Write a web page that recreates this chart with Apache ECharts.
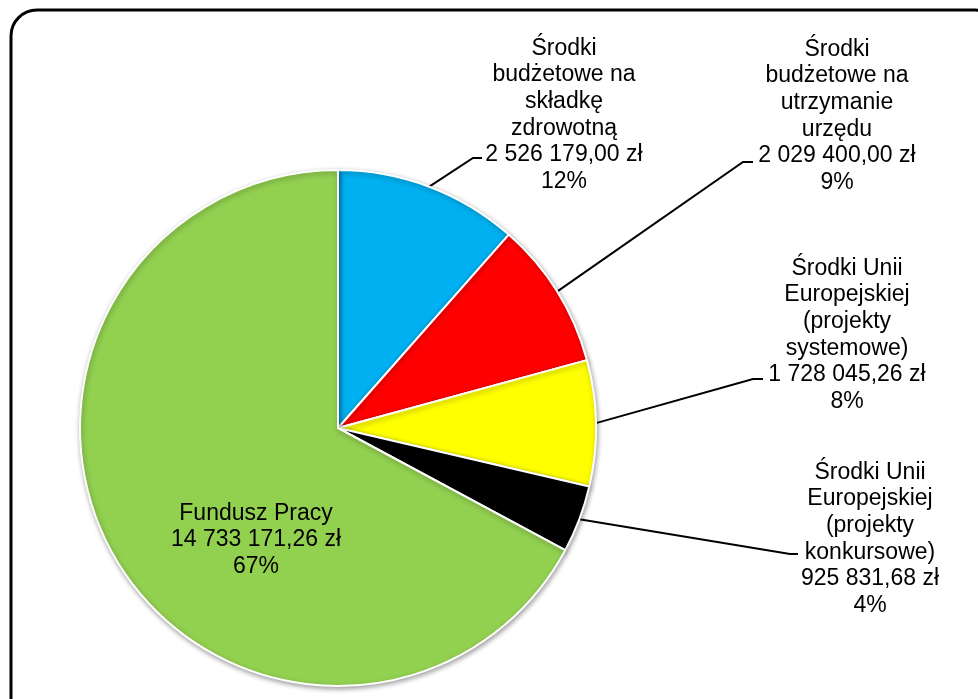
<!DOCTYPE html>
<html>
<head>
<meta charset="utf-8">
<script src="https://cdn.jsdelivr.net/npm/echarts@6/dist/echarts.min.js"></script>
<style>
html,body{margin:0;padding:0;background:#fff;}
#chart{width:978px;height:699px;}
</style>
</head>
<body>
<div id="chart"></div>
<script>
// ---- data ----
const categories = [
  'Środki\nbudżetowe na\nskładkę\nzdrowotną',
  'Środki\nbudżetowe na\nutrzymanie\nurzędu',
  'Środki Unii\nEuropejskiej\n(projekty\nsystemowe)',
  'Środki Unii\nEuropejskiej\n(projekty\nkonkursowe)',
  'Fundusz Pracy'
];
const values = [2526179.00, 2029400.00, 1728045.26, 925831.68, 14733171.26];
const colors = ['#00B0F0', '#FF0000', '#FFFF00', '#000000', '#92D050'];

// ---- layout (positions only) ----
const CX = 338, CY = 428, R = 258;
const labelCenters = [[564, 115], [837, 116], [847, 335], [870, 539], [256, 540]];
const leaderBends = [[473, 158], [743, 162], [753, 379], [790, 554], null];
const leaderEnds = [[482, 158], [753, 162], [763, 379], [798, 554], null];

const total = values.reduce((a, b) => a + b, 0);
let acc = 0;
const midAngles = values.map(v => { const m = acc + v / 2; acc += v; return m / total * Math.PI * 2; });

function fmtMoney(n) {
  const parts = n.toFixed(2).split('.');
  const intPart = parts[0].replace(/\B(?=(\d{3})+(?!\d))/g, ' ');
  return intPart + ',' + parts[1] + ' zł';
}

const chart = echarts.init(document.getElementById('chart'), null, {renderer: 'canvas'});
chart.setOption({
  animation: false,
  backgroundColor: '#fff',
  graphic: [{
    type: 'rect',
    shape: {x: 11, y: 10, width: 990, height: 715, r: 26},
    style: {fill: 'none', stroke: '#000', lineWidth: 3},
    z: 0
  }],
  series: [{
    type: 'pie',
    center: [CX, CY],
    radius: R,
    startAngle: 90,
    clockwise: true,
    avoidLabelOverlap: false,
    itemStyle: {
      borderColor: '#fff',
      borderWidth: 2,
      shadowBlur: 5,
      shadowColor: 'rgba(0,0,0,0.35)',
      shadowOffsetX: 1,
      shadowOffsetY: 2
    },
    label: {
      show: true,
      position: 'outside',
      color: '#000',
      fontFamily: 'Liberation Sans, Arial, sans-serif',
      fontSize: 23,
      lineHeight: 26.7,
      align: 'center',
      formatter: p => p.name + '\n' + fmtMoney(p.value) + '\n' + Math.round(p.value / total * 100) + '%'
    },
    labelLine: {
      show: true,
      lineStyle: {color: '#000', width: 2}
    },
    labelLayout: function (params) {
      const i = params.dataIndex;
      const c = labelCenters[i];
      const res = {x: c[0], y: c[1], align: 'center', verticalAlign: 'middle'};
      if (leaderBends[i]) {
        const a = midAngles[i];
        const start = [CX + R * Math.sin(a), CY - R * Math.cos(a)];
        res.labelLinePoints = [start, leaderBends[i], leaderEnds[i]];
      }
      return res;
    },
    data: categories.map((name, i) => ({
      name: name,
      value: values[i],
      itemStyle: {color: colors[i]},
      labelLine: {show: i !== 4}
    }))
  }]
});
</script>
</body>
</html>
